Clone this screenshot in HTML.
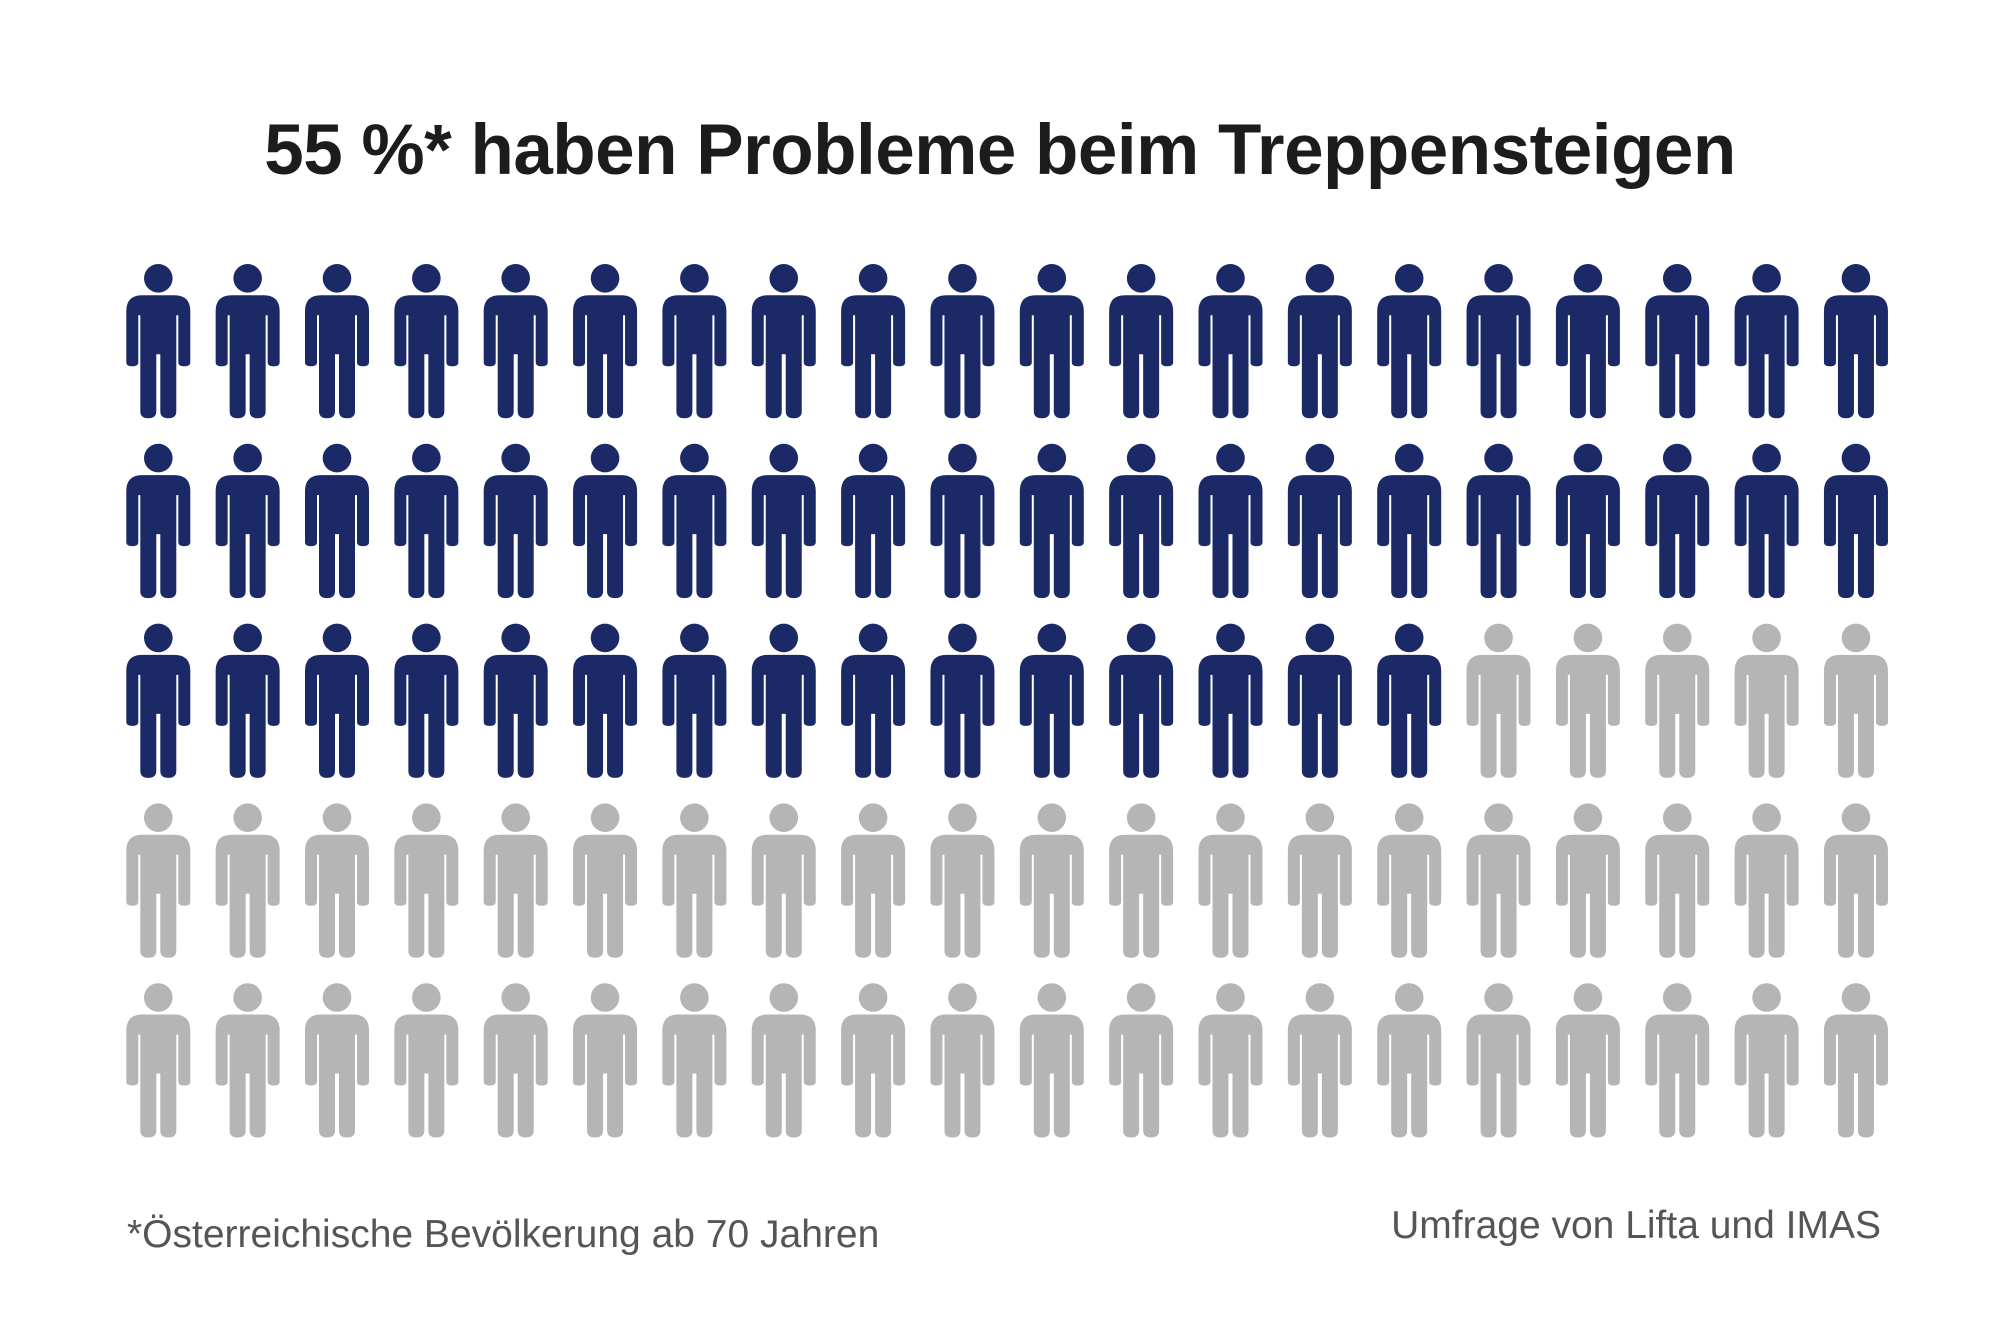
<!DOCTYPE html>
<html><head><meta charset="utf-8"><style>
html,body{margin:0;padding:0;background:#fff;}
body{width:2000px;height:1333px;position:relative;overflow:hidden;font-family:"Liberation Sans",sans-serif;}
#title{position:absolute;left:0;width:2000px;top:110px;text-align:center;font-weight:bold;font-size:71px;color:#1c1c1c;letter-spacing:-0.5px;}
.note{position:absolute;font-size:39px;color:#555;}
</style></head><body>
<div id="title">55 %* haben Probleme beim Treppensteigen</div>
<svg id="chart" width="2000" height="1333" style="position:absolute;left:0;top:0"></svg>
<div class="note" style="left:127px;top:1213px">*Österreichische Bevölkerung ab 70 Jahren</div>
<div class="note" style="right:119px;top:1204px">Umfrage von Lifta und IMAS</div>
<script>
const totalIcons = 100;
const affectedCount = [55];
const columns = [20];
const colors = ['#1b2a66', '#b5b5b5'];
const svg = document.getElementById('chart');
const NS = 'http://www.w3.org/2000/svg';
const x0 = 158.3, dx = 89.35, y0 = 278.3, dy = 179.8;
function person(cx, cy, fill){
  const g = document.createElementNS(NS,'g');
  g.setAttribute('fill', fill);
  const p = document.createElementNS(NS,'path');
  const d = `M${cx-32} ${cy+84} L${cx-32} ${cy+33} Q${cx-32} ${cy+17} ${cx-16} ${cy+17} L${cx+16} ${cy+17} Q${cx+32} ${cy+17} ${cx+32} ${cy+33} L${cx+32} ${cy+84} Q${cx+32} ${cy+88} ${cx+26} ${cy+88} Q${cx+20} ${cy+88} ${cx+20} ${cy+84} L${cx+20} ${cy+37} L${cx+18} ${cy+37} L${cx+18} ${cy+133} Q${cx+18} ${cy+140} ${cx+10} ${cy+140} Q${cx+2} ${cy+140} ${cx+2} ${cy+133} L${cx+2} ${cy+76} L${cx-2} ${cy+76} L${cx-2} ${cy+133} Q${cx-2} ${cy+140} ${cx-10} ${cy+140} Q${cx-18} ${cy+140} ${cx-18} ${cy+133} L${cx-18} ${cy+37} L${cx-20} ${cy+37} L${cx-20} ${cy+84} Q${cx-20} ${cy+88} ${cx-26} ${cy+88} Q${cx-32} ${cy+88} ${cx-32} ${cy+84} Z`;
  p.setAttribute('d', d);
  const c = document.createElementNS(NS,'circle');
  c.setAttribute('cx', cx); c.setAttribute('cy', cy); c.setAttribute('r', 14.3);
  g.appendChild(c); g.appendChild(p);
  return g;
}
for(let i=0;i<totalIcons;i++){
  const col = i % columns[0], row = Math.floor(i/columns[0]);
  const on = i < affectedCount[0];
  const g = person(x0+col*dx, y0+row*dy, on?colors[0]:colors[1]);
  
  
  svg.appendChild(g);
}
</script>
</body></html>
